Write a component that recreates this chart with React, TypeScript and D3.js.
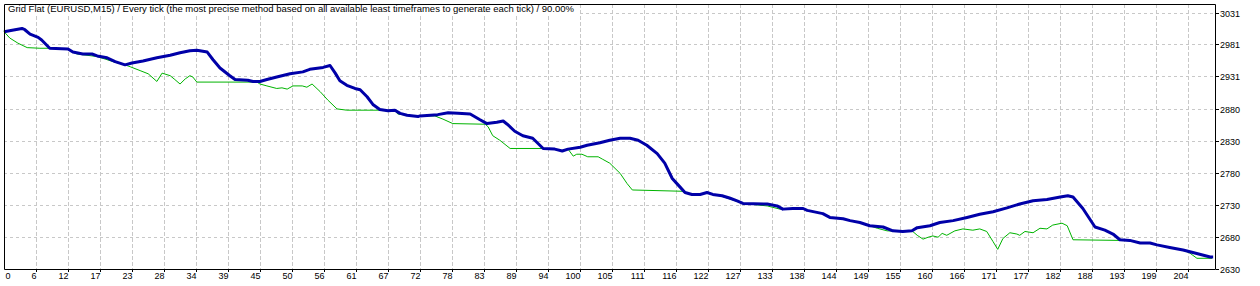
import React from "react";
import * as d3 from "d3";

const title =
  "Grid Flat (EURUSD,M15) / Every tick (the most precise method based on all available least timeframes to generate each tick) / 90.00%";

const yTickValues = [2630, 2680, 2730, 2780, 2830, 2880, 2931, 2981, 3031];
const yTickLabels = ["2630", "2680", "2730", "2780", "2830", "2880", "2931", "2981", "3031"];
const xTickLabels = [
  "0", "6", "12", "17", "23", "28", "34", "39", "45", "50", "56", "61", "67", "72", "78", "83", "89", "94",
  "100", "105", "111", "116", "122", "127", "133", "138", "144", "149", "155", "160", "166", "171", "177",
  "182", "188", "193", "199", "204",
];
const xTickStep = 5.526;
const yMin = 2630;
const yMax = 3031;
const xMax = 209.12;

// [trade #, balance]
const balance: [number, number][] = [
  [0, 3001], [1.9, 3004], [3.1, 3006], [3.6, 3004], [4.5, 2997], [5.9, 2992], [6.5, 2988], [7.9, 2975],
  [11.05, 2974], [11.9, 2969], [13.6, 2966], [15.2, 2966], [16.1, 2963], [17.8, 2960], [19.2, 2954],
  [20.9, 2949], [22.1, 2952], [24.0, 2955], [26.4, 2960], [28.7, 2964], [30.4, 2968], [32.1, 2971],
  [33.3, 2972], [35.1, 2969], [36.1, 2957], [37.3, 2944], [39.0, 2932], [39.9, 2926], [42.1, 2925],
  [43.0, 2923], [44.2, 2923], [45.4, 2926], [47.1, 2930], [49.4, 2935], [51.6, 2938], [52.8, 2942],
  [55.1, 2945], [56.3, 2948], [57.2, 2936], [58.0, 2924], [59.2, 2917], [60.6, 2912], [61.5, 2910],
  [62.7, 2899], [63.7, 2887], [64.9, 2879], [66.3, 2877], [67.5, 2878], [68.4, 2873], [69.6, 2870],
  [71.5, 2868], [71.8, 2869], [74.9, 2871], [76.7, 2874], [78.4, 2873], [80.5, 2872], [82.2, 2863],
  [83.4, 2857], [85.1, 2859], [86.2, 2861], [86.9, 2856], [88.2, 2845], [89.6, 2838], [91.3, 2834],
  [93.1, 2818], [95.1, 2817], [96.4, 2814], [97.4, 2817], [99.5, 2820], [100.7, 2823], [102.9, 2827],
  [104.6, 2831], [106.4, 2834], [108.1, 2834], [109.5, 2831], [111.0, 2823], [112.8, 2810], [114.1, 2795],
  [115.4, 2771], [116.4, 2761], [117.6, 2749], [118.8, 2746], [120.2, 2746], [121.4, 2749], [122.4, 2746],
  [124.0, 2744], [125.4, 2740], [126.6, 2736], [127.6, 2732], [131.8, 2731], [133.5, 2728], [134.5, 2723],
  [136.2, 2724], [138.0, 2724], [138.7, 2721], [141.4, 2716], [142.6, 2710], [144.9, 2708], [146.1, 2705],
  [147.8, 2702], [149.5, 2697], [151.8, 2695], [153.5, 2689], [155.2, 2688], [156.8, 2689], [157.7, 2694],
  [159.9, 2697], [161.6, 2702], [163.9, 2705], [166.3, 2710], [168.5, 2715], [170.8, 2719], [173.2, 2725],
  [175.4, 2731], [177.7, 2736], [180.1, 2738], [182.4, 2742], [183.7, 2744], [184.6, 2742], [186.3, 2724],
  [188.4, 2695], [190.1, 2690], [191.5, 2684], [192.7, 2675], [194.4, 2674], [196.2, 2670], [197.9, 2670],
  [199.1, 2667], [201.3, 2663], [203.6, 2659], [205.3, 2655], [208.3, 2648], [208.8, 2648],
];

// [trade #, equity]
const equity: [number, number][] = [
  [0, 3001], [1.0, 2991], [2.4, 2983], [4.0, 2976], [6.2, 2975], [7.9, 2975], [11.05, 2974], [11.9, 2969],
  [12.6, 2966], [16.1, 2962], [19.2, 2953], [20.9, 2949], [21.8, 2946], [23.5, 2940], [24.9, 2935],
  [26.4, 2923], [27.3, 2936], [28.7, 2932], [29.5, 2926], [30.4, 2919], [31.3, 2927], [32.1, 2932],
  [32.6, 2930], [33.3, 2922], [43.7, 2922], [44.2, 2919], [45.4, 2916], [47.1, 2912], [48.0, 2913],
  [48.9, 2911], [49.9, 2916], [51.5, 2916], [52.3, 2914], [53.2, 2919], [54.6, 2907], [55.9, 2894],
  [57.5, 2880], [59.2, 2878], [64.9, 2878], [66.3, 2877], [67.5, 2878], [68.0, 2872], [69.6, 2870],
  [71.5, 2868], [71.8, 2869], [74.4, 2869], [75.8, 2864], [77.5, 2857], [83.1, 2856], [83.6, 2852],
  [84.4, 2838], [85.6, 2831], [87.4, 2818], [93.1, 2818], [95.1, 2817], [96.4, 2814], [97.4, 2817],
  [98.3, 2806], [98.9, 2809], [99.8, 2809], [100.8, 2805], [102.6, 2805], [103.4, 2801], [104.6, 2795],
  [106.4, 2779], [107.6, 2763], [108.5, 2753], [117.1, 2751], [118.8, 2746], [120.2, 2746], [121.4, 2749],
  [122.4, 2746], [124.0, 2743], [126.6, 2735], [127.6, 2732], [131.8, 2728], [134.0, 2723], [136.2, 2724],
  [138.0, 2724], [138.7, 2721], [141.4, 2716], [142.6, 2710], [144.9, 2708], [146.1, 2705], [147.8, 2702],
  [149.5, 2697], [150.8, 2693], [152.5, 2689], [155.2, 2688], [156.8, 2689], [157.7, 2682], [158.7, 2676],
  [159.6, 2679], [160.4, 2681], [161.3, 2679], [162.0, 2685], [162.8, 2682], [164.2, 2689], [165.6, 2692],
  [167.3, 2690], [168.5, 2692], [169.7, 2688], [170.8, 2672], [171.6, 2660], [172.5, 2677], [173.7, 2686],
  [174.9, 2684], [175.4, 2682], [176.3, 2688], [177.7, 2686], [178.9, 2693], [180.1, 2692], [181.1, 2698],
  [182.7, 2701], [183.6, 2697], [184.6, 2675], [192.7, 2674], [194.4, 2674], [196.2, 2670], [197.9, 2670],
  [199.1, 2667], [201.3, 2663], [203.6, 2659], [204.8, 2654], [206.0, 2646], [208.6, 2646],
];

const W = 1260;
const H = 286;
const left = 4;
const right = 1215;
const top = 4;
const bottom = 269;
const font = "'Liberation Sans', Arial, sans-serif";

export default function App() {
  const x = d3.scaleLinear().domain([0, xMax]).range([left, right]);
  const y = d3.scaleLinear().domain([yMin, yMax]).range([268.5, 12.5]);
  const line = d3
    .line<[number, number]>()
    .x((d) => x(d[0]))
    .y((d) => y(d[1]));

  const gridColor = "#c8c8c8";

  return (
    <svg
      width={W}
      height={H}
      style={{ position: "absolute", left: 0, top: 0, background: "#fff" }}
      fontFamily={font}
    >
      <rect x={0} y={0} width={W} height={H} fill="#fff" />
      {/* vertical grid */}
      {xTickLabels.map((t, k) =>
        k === 0 ? null : (
          <line
            key={"vg" + k}
            x1={Math.round(x(k * xTickStep)) + 0.5}
            x2={Math.round(x(k * xTickStep)) + 0.5}
            y1={top}
            y2={bottom}
            stroke={gridColor}
            strokeDasharray="4,2"
          />
        )
      )}
      {/* horizontal grid */}
      {yTickValues.map((v, i) =>
        i === 0 ? null : (
          <line
            key={"hg" + i}
            x1={left}
            x2={right}
            y1={Math.round(y(v)) + 0.5}
            y2={Math.round(y(v)) + 0.5}
            stroke={gridColor}
            strokeDasharray="3,3"
          />
        )
      )}
      {/* title */}
      <rect x={left + 1} y={top + 1} width={572} height={9} fill="#fff" />
      <text x={8} y={11.5} fontSize={9.5} fill="#000">
        {title}
      </text>
      {/* series */}
      <path d={line(equity) || ""} fill="none" stroke="#00b400" strokeWidth={1} />
      <path d={line(balance) || ""} fill="none" stroke="#0000a8" strokeWidth={3} strokeLinejoin="round" />
      {/* frame */}
      <path
        d={`M${left + 0.5},${top + 0.5}H${right + 0.5}V${bottom + 0.5}H${left + 0.5}Z`}
        fill="none"
        stroke="#000"
        strokeWidth={1}
      />
      {/* y ticks & labels */}
      {yTickValues.map((v, i) => {
        const yy = Math.round(y(v)) + 0.5;
        return (
          <g key={"yt" + i}>
            <line x1={right + 1} x2={right + 4} y1={yy} y2={yy} stroke="#000" />
            <text x={1220} y={yy + 3.3} fontSize={9} fill="#000">
              {yTickLabels[i]}
            </text>
          </g>
        );
      })}
      {/* x ticks & labels */}
      {xTickLabels.map((t, k) => {
        const xx = Math.round(x(k * xTickStep)) + 0.5;
        return (
          <g key={"xt" + k}>
            {k > 0 && <line x1={xx} x2={xx} y1={bottom + 1} y2={bottom + 3} stroke="#000" />}
            <text
              x={k === 0 ? 5.5 : xx}
              y={278.5}
              fontSize={9}
              textAnchor={k === 0 ? "start" : "end"}
              fill="#000"
            >
              {t}
            </text>
          </g>
        );
      })}
    </svg>
  );
}
